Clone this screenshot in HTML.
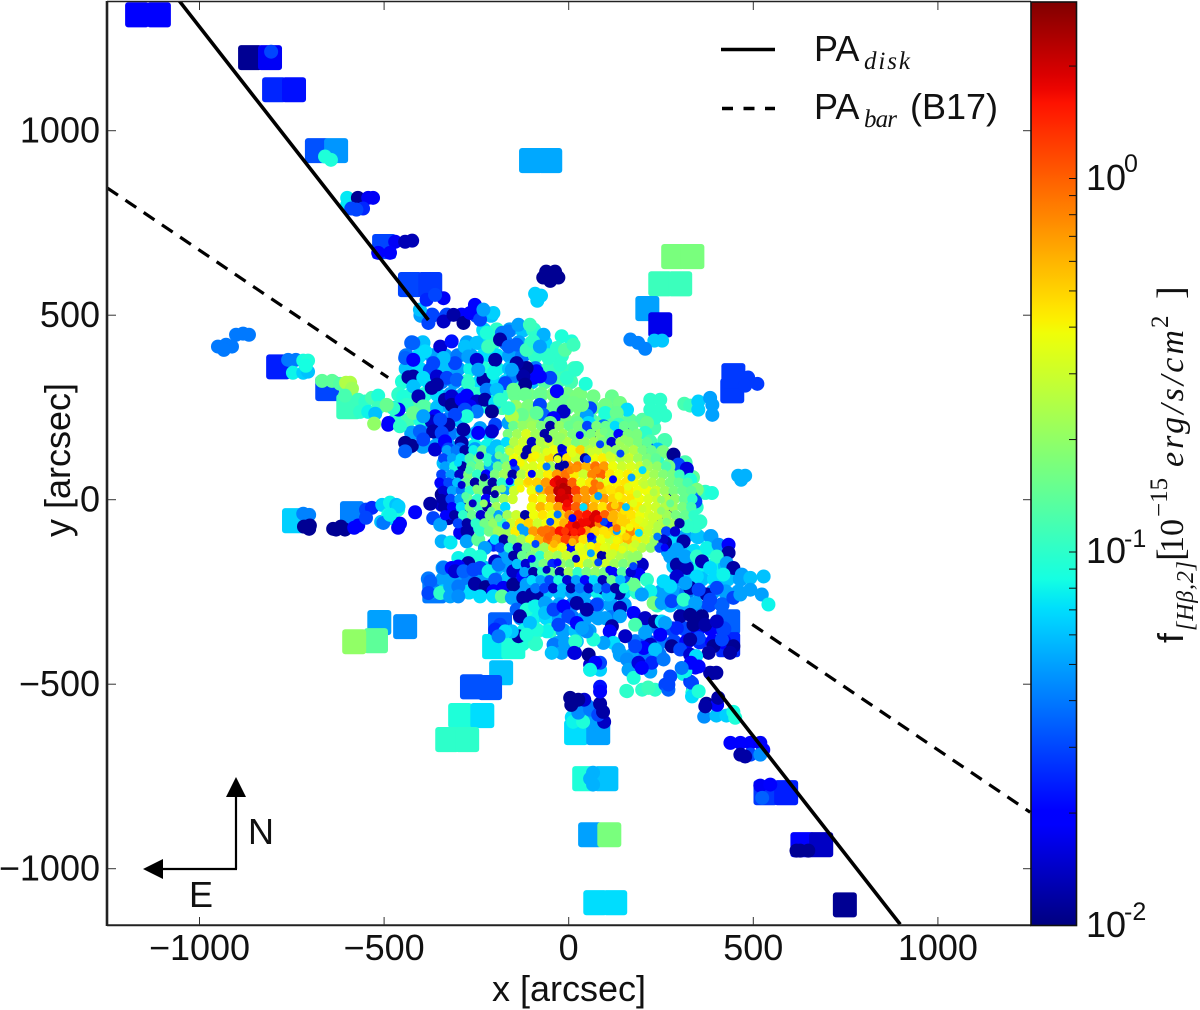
<!DOCTYPE html>
<html lang="en">
<head>
<meta charset="utf-8">
<title>H-beta flux map</title>
<style>
html,body{margin:0;padding:0;background:#fff;width:1200px;height:1010px;overflow:hidden}
svg{display:block}
text{font-family:"Liberation Sans",sans-serif;fill:#111}
.serif{font-family:"Liberation Serif",serif}
</style>
</head>
<body>
<svg id="chart" xmlns="http://www.w3.org/2000/svg" width="1200" height="1010" viewBox="0 0 1200 1010">
  <defs>
    <linearGradient id="jetGrad" x1="0" y1="1" x2="0" y2="0"></linearGradient>
    <clipPath id="plotClip"><rect x="107" y="1" width="924" height="925"></rect></clipPath>
  </defs>
  <rect x="0" y="0" width="1200" height="1010" fill="#fff"></rect>
  <g id="tileLayer" clip-path="url(#plotClip)"></g>
  <g id="fillLayer" clip-path="url(#plotClip)"></g>
  <g id="spotLayer" clip-path="url(#plotClip)"></g>
  <g id="coreLayer" clip-path="url(#plotClip)"></g>
  <g id="lineLayer" clip-path="url(#plotClip)"></g>
  <g id="axisLayer"></g>

  <rect x="1031" y="2" width="45.5" height="923.5" fill="url(#jetGrad)" stroke="#111" stroke-width="1.6"></rect>
  <g id="cbTickLayer"></g>

  <text x="569" y="1001" font-size="36" text-anchor="middle">x [arcsec]</text>
  <text transform="translate(70,460) rotate(-90)" font-size="36" text-anchor="middle">y [arcsec]</text>

  <g>
    <line x1="236" y1="869" x2="236" y2="795" stroke="#000" stroke-width="2.2"></line>
    <polygon points="236,777 226,797 246,797" fill="#000"></polygon>
    <line x1="237" y1="869" x2="160" y2="869" stroke="#000" stroke-width="2.2"></line>
    <polygon points="143,869 163,859 163,879" fill="#000"></polygon>
    <text x="248" y="844" font-size="36">N</text>
    <text x="189" y="907" font-size="36">E</text>
  </g>

  <g>
    <line x1="721" y1="49.5" x2="775" y2="49.5" stroke="#000" stroke-width="3.5"></line>
    <text x="814" y="61" font-size="36">PA</text>
    <text class="serif" x="864" y="69" font-size="25" font-style="italic" textLength="46">disk</text>
    <line x1="722" y1="108.5" x2="775" y2="108.5" stroke="#000" stroke-width="3.5" stroke-dasharray="11 10.5"></line>
    <text x="814" y="119" font-size="36">PA</text>
    <text class="serif" x="864" y="127" font-size="25" font-style="italic" textLength="33">bar</text>
    <text x="910" y="119" font-size="36">(B17)</text>
  </g>

  <g>
    <text x="1086" y="190" font-size="36">10</text>
    <text x="1124" y="172" font-size="25">0</text>
    <text x="1086" y="563" font-size="36">10</text>
    <text x="1124" y="547" font-size="25">-1</text>
    <text x="1086" y="937" font-size="36">10</text>
    <text x="1124" y="920" font-size="25">-2</text>
  </g>

  <g transform="translate(1183,645) rotate(-90)">
    <text x="2" y="0" font-size="36">f</text>
    <text class="serif" x="14" y="10" font-size="24" font-style="italic" textLength="70">[Hβ,2]</text>
    <text class="serif" x="84" y="0" font-size="38">[</text>
    <text class="serif" x="92" y="0" font-size="34">10</text>
    <text class="serif" x="128" y="-16" font-size="25">−15</text>
    <text class="serif" x="178" y="0" font-size="34" font-style="italic" textLength="137">erg/s/cm</text>
    <text class="serif" x="317" y="-15" font-size="25">2</text>
    <text class="serif" x="346" y="0" font-size="38">]</text>
  </g>
</svg>

<script>
// ---------- axis ticks ----------
const xTicks = [-1000, -500, 0, 500, 1000];
const yTicks = [-1000, -500, 0, 500, 1000];
const xTickLabels = ["−1000", "−500", "0", "500", "1000"];
const yTickLabels = ["−1000", "−500", "0", "500", "1000"];
const colorbarDecades = [0.01, 0.1, 1];
const colorbarMinor = [0.02,0.03,0.04,0.05,0.06,0.07,0.08,0.09,0.2,0.3,0.4,0.5,0.6,0.7,0.8,0.9,2];

// ---------- position-angle lines: segments of [x, y] in arcsec ----------
const diskLine = [[[-1055,1352],[-380,487]], [[375,-481],[898,-1151]]];
const barLine = [[[-1250,845],[-489,331]], [[497,-338],[1250,-847]]];

// ---------- large rectangular bins: [x, y, flux] ----------
const tileObs = [
[-1169,1314,.02],[-1110,1314,.02],[-863,1198,.011],[-809,1198,.018],[-798,1111,.025],[-744,1111,.022],
[-682,946,.032],[-630,946,.047],[-500,686,.03],[-430,583,.03],[-375,583,.028],
[-102,919,.052],[-50,919,.052],[248,585,.11],[302,585,.11],[283,659,.17],[335,659,.17],
[213,518,.05],[248,474,.017],[443,295,.028],[446,336,.028],
[-787,360,.024],[-654,301,.03],[-597,252,.11],[-744,-57,.065],[-587,-38,.042],
[-513,-333,.05],[-522,-382,.14],[-581,-385,.2],[-443,-344,.045],
[-364,-247,.04],[-321,-206,.035],
[-183,-469,.06],[-262,-507,.032],[-213,-509,.032],
[-186,-339,.035],[-202,-398,.075],[-150,-398,.09],
[-294,-585,.09],[-234,-585,.07],[-329,-650,.1],[-275,-650,.1],
[20,-631,.07],[80,-631,.05],[42,-756,.09],[102,-756,.06],[58,-908,.05],[110,-908,.17],
[72,-1092,.07],[126,-1092,.07],[748,-1098,.011],[633,-935,.02],[684,-935,.014],
[533,-794,.028],[589,-794,.024],[432,-331,.035],[432,-393,.025]
];

// ---------- wide low-level fibres underneath the rest: [x, y, flux] ----------
const wideObs = [
[-400,500,.05],[-370,500,.03],[-330,500,.03],[-290,500,.02],[-250,500,.03],[-210,500,.06],
[-230,460,.07],[-195,460,.1],[-160,460,.05],[-125,460,.06],[-95,460,.1],
[-425,425,.035],[-395,425,.06],[-275,425,.05],[-240,425,.07],[-205,425,.1],[-170,425,.04],[-135,425,.05],[-100,425,.1],[-65,425,.07],
[-440,390,.04],[-405,390,.07],[-370,390,.05],[-335,390,.05],[-300,390,.04],[-265,390,.05],[-230,390,.07],[-195,390,.07],[-160,390,.05],[-125,390,.04],[-90,390,.1],[-55,390,.1],[-20,390,.1],
[-440,355,.06],[-405,355,.07],[-370,355,.04],[-335,355,.06],[-300,355,.05],[-265,355,.08],[-230,355,.09],[-195,355,.08],[-160,355,.06],[-125,355,.03],[-90,355,.04],[-55,355,.11],[-20,355,.11],[15,355,.11],
[-450,320,.09],[-415,320,.07],[-380,320,.07],[-345,320,.04],[-310,320,.05],[-275,320,.1],[-240,320,.07],[-205,320,.07],[-170,320,.07],[-135,320,.1],[-100,320,.06],[-65,320,.13],[-30,320,.12],[5,320,.12],
[-460,285,.1],[-425,285,.1],[-390,285,.09],[-355,285,.07],[-320,285,.05],[-285,285,.05],[-250,285,.1],[-215,285,.09],[-180,285,.1],[-145,285,.15],[-110,285,.16],[-75,285,.16],[-40,285,.17],[-5,285,.16],[30,285,.17],
[-460,250,.1],[-425,250,.13],[-390,250,.13],[-355,250,.06],[-320,250,.05],[-285,250,.05],[-250,250,.08],[-215,250,.09],[-180,250,.12],[-145,250,.2],[-110,250,.2],[-75,250,.17],[-40,250,.17],[-5,250,.15],[30,250,.17],[65,250,.16],[100,250,.15],[135,250,.15],
[-470,215,.1],[-435,215,.12],[-400,215,.09],[-365,215,.05],[-330,215,.04],[-295,215,.06],[-150,215,.25],[-115,215,.2],[-80,215,.2],[-45,215,.15],[-10,215,.17],[25,215,.17],[60,215,.12],[95,215,.14],[130,215,.14],[165,215,.14],[200,215,.13],[230,195,.12],
[-425,180,.05],[-390,180,.05],[-355,180,.04],[-320,180,.04],[-285,180,.05],[-250,180,.06],[-215,180,.07],
[-430,145,.05],[-395,145,.05],[-360,145,.05],[-325,145,.05],[-290,145,.06],[-255,145,.08],[-220,145,.08],[260,160,.12],
[280,100,.15],[315,100,.12],[300,60,.16],[335,60,.14],[335,20,.14],[370,20,.1],[345,-20,.1],[320,-60,.1],[355,-60,.1],
[280,-100,.07],[315,-100,.05],[350,-100,.06],[385,-100,.05],
[270,-140,.05],[305,-140,.06],[340,-140,.07],[375,-140,.09],[410,-140,.05],
[285,-180,.06],[320,-180,.05],[355,-180,.08],[390,-180,.08],[425,-180,.06],
[290,-215,.05],[325,-215,.06],[360,-215,.06],[395,-215,.07],[430,-215,.06],[465,-215,.05],
[250,-250,.05],[285,-250,.05],[320,-250,.04],[355,-250,.05],[390,-250,.05],[425,-250,.05],[460,-250,.05],
[240,-285,.1],[275,-285,.06],[310,-285,.05],[345,-285,.04],[380,-285,.03],[415,-285,.035],
[-340,-185,.05],[-300,-185,.06],[-265,-185,.07],[-230,-185,.06],[-195,-185,.06],[-160,-185,.05],[-125,-185,.05],[-90,-185,.08],
[-380,-215,.04],[-340,-215,.05],[-305,-215,.05],[-270,-215,.04],[-235,-215,.05],[-200,-215,.05],[-165,-215,.06],[-130,-215,.05],[-95,-215,.06],[-60,-215,.07],[-25,-215,.07],[10,-215,.08],[45,-215,.07],[80,-215,.08],[115,-215,.1],[150,-215,.1],
[-375,-250,.05],[-340,-250,.07],[-305,-250,.05],[-270,-250,.07],[-235,-250,.07],[-200,-250,.07],[-165,-250,.09],[-130,-250,.05],[-95,-250,.06],[-60,-250,.06],[-25,-250,.06],[10,-250,.05],[45,-250,.05],[80,-250,.08],[115,-250,.07],[150,-250,.07],[185,-250,.1],
[-130,-285,.05],[-95,-285,.07],[-60,-285,.06],[-25,-285,.05],[10,-285,.04],[45,-285,.05],[80,-285,.05],[115,-285,.05],[150,-285,.05],
[-130,-320,.05],[-95,-320,.08],[-60,-320,.07],[-25,-320,.05],[10,-320,.04],[45,-320,.05],[80,-320,.05],[115,-320,.04],
[-120,-355,.08],[-85,-355,.1],[-50,-355,.1],[-15,-355,.05],[20,-355,.06],[55,-355,.05],
[-125,-390,.09],[-90,-390,.1],[-30,-390,.05],
[210,-350,.05],[245,-350,.04],[280,-350,.03],[315,-350,.03],[350,-350,.02],[385,-350,.02],[420,-350,.03],
[180,-385,.04],[215,-385,.03],[250,-385,.04],[285,-385,.03],[320,-385,.02],[355,-385,.025],[390,-385,.02],[420,-385,.02],
[140,-420,.05],[175,-420,.05],[210,-420,.04],[245,-420,.04],
[20,-560,.04],[50,-560,.04],[80,-565,.035],[10,-590,.07],[40,-590,.07],[70,-595,.05]
];

// ---------- mid-size fibre spots: [x, y, flux] ----------
const spotObs = [
[-806,1214,.03],[-660,930,.09],[-644,921,.09],
[-600,818,.075],[-600,799,.075],[-571,818,.011],[-543,818,.018],[-530,818,.018],[-589,789,.03],[-557,789,.025],[-575,786,.03],
[-470,699,.018],[-443,699,.013],[-424,702,.013],[-516,669,.02],[-484,669,.02],
[-91,558,.065],[-75,553,.065],[-85,539,.065],
[-61,618,.011],[-37,618,.011],[-69,602,.011],[-50,593,.011],[-28,602,.011],
[167,434,.042],[188,425,.042],[232,431,.062],[253,431,.062],[207,409,.042],
[221,271,.1],[248,271,.1],[221,244,.1],[248,244,.1],[261,228,.1],[234,222,.1],
[313,260,.12],[329,255,.11],[351,266,.065],[351,244,.065],[389,257,.05],[389,230,.05],[383,276,.05],
[486,331,.028],[511,314,.028],[478,309,.028],[459,65,.055],[478,65,.055],[467,54,.055],
[-901,447,.04],[-882,450,.04],[-866,447,.04],[-950,415,.04],[-928,420,.04],[-912,415,.04],[-934,406,.04],
[-760,379,.04],[-739,379,.04],[-719,377,.085],[-706,377,.09],[-747,344,.08],[-719,344,.065],[-706,347,.06],[-712,363,.085],
[-668,322,.14],[-641,322,.14],[-619,314,.13],[-592,317,.25],[-603,317,.25],[-587,301,.22],
[-606,282,.12],[-570,271,.11],[-551,266,.1],[-533,276,.12],[-516,282,.09],[-565,238,.1],[-543,238,.08],[-516,249,.11],[-524,233,.06],
[-527,206,.2],[-489,203,.018],[-492,255,.18],[-476,249,.07],
[-719,-38,.042],[-703,-41,.042],[-717,-73,.011],[-701,-70,.011],[-703,-79,.011],
[-638,-79,.011],[-617,-73,.011],[-630,-81,.011],[-606,-81,.011],[-581,-76,.02],[-570,-70,.02],
[-549,-27,.03],[-533,-22,.025],[-549,-49,.03],
[-505,-14,.065],[-484,-8,.08],[-467,-14,.06],[-508,-60,.06],[-489,-41,.085],[-476,-51,.07],[-462,-27,.09],[-462,-76,.018],
[12,-602,.08],[39,-602,.09],[77,-610,.05],[96,-602,.014],[26,-577,.045],[58,-569,.04],[80,-583,.03],
[7,-556,.011],[42,-542,.015],[85,-553,.012],[93,-575,.012],[4,-537,.011],[26,-542,.011],
[85,-507,.022],[85,-520,.02],[58,-461,.065],[85,-461,.065],[58,-447,.015],[85,-442,.03],
[66,-740,.055],[66,-772,.055],[58,-756,.055],
[627,-951,.011],[649,-951,.011],[617,-951,.011],[519,-775,.018],[546,-772,.019],[524,-808,.035],
[438,-659,.02],[465,-659,.02],[492,-659,.02],[519,-659,.018],[527,-678,.02],[465,-691,.012],[492,-691,.03],[519,-691,.045],[478,-696,.012],
[367,-588,.045],[400,-585,.06],[427,-585,.065],[446,-575,.085],[451,-591,.09],[373,-553,.011],[402,-556,.02],[405,-537,.012],
[383,-469,.012],[400,-469,.012],[343,-455,.02],[316,-466,.025],[310,-472,.08],[329,-493,.028],[337,-515,.03],[335,-523,.09],
[215,-509,.11],[199,-515,.1],[234,-515,.1],[156,-518,.1],[262,-501,.03],[270,-515,.035],[221,-466,.05],

[-403,515,.06],[-385,542,.025],[-339,546,.018],[-362,555,.03],
[-380,479,.03],[-339,483,.014],[-312,501,.012],[-285,479,.011],[-254,528,.02],[-267,506,.02],[-240,488,.03],[-204,506,.065],[-231,515,.05],
[-421,425,.035],[-389,402,.07],[-443,384,.035],[-421,379,.02],[-348,415,.015],[-317,429,.022],[-308,370,.03],[-339,384,.06],[-367,370,.03],
[-281,415,.06],[-249,425,.06],[-272,388,.05],[-249,379,.015],[-222,452,.09],[-218,415,.11],[-199,379,.012],[-181,452,.04],[-163,456,.04],[-136,474,.05],[-105,474,.11],
[-186,434,.012],[-163,415,.035],[-141,420,.035],[-114,406,.11],[-68,447,.055],[-96,429,.1],[-78,415,.05],[-55,384,.1],[-19,443,.09],[8,429,.09],[-32,411,.1],[-10,406,.13],[-23,366,.1],[22,357,.1],[-5,330,.1],[-50,330,.03],
[-87,348,.02],[-96,330,.02],[-78,334,.02],[-150,334,.04],[-114,357,.011],[-141,370,.012],[-123,334,.012],[-118,312,.011],
[-421,334,.012],[-434,332,.012],[-448,280,.09],[-376,352,.03],[-394,330,.07],[-357,334,.015],[-330,330,.03],[-303,325,.035],[-272,316,.1],[-231,325,.012],[-204,343,.08],[-172,316,.03],[-154,352,.05],[-245,352,.05],
[-421,307,.06],[-371,303,.012],[-407,280,.013],[-439,257,.1],[-394,253,.13],[-421,235,.15],[-461,244,.02],[-488,208,.02],[-475,248,.1],[-493,257,.15],[-457,199,.1],
[-357,312,.012],[-335,271,.012],[-317,280,.015],[-317,257,.011],[-290,271,.02],[-276,282,.02],[-249,266,.014],[-267,253,.018],[-222,298,.04],[-227,271,.012],[-195,298,.06],[-199,262,.07],[-208,239,.011],[-249,239,.04],[-281,244,.03],[-276,226,.09],[-308,230,.03],
[-362,226,.02],[-371,212,.014],[-326,203,.012],[-348,217,.03],[-394,226,.05],[-403,185,.035],[-367,185,.012],[-344,181,.03],[-285,190,.012],[-240,194,.05],[-199,203,.03],[-163,208,.05],[-208,185,.015],[-245,181,.02],
[-443,154,.011],[-425,146,.011],[-443,131,.035],[-394,163,.03],[-362,136,.015],[-335,158,.02],[-326,136,.03],[-290,154,.012],[-254,137,.05],[-195,145,.06],[-172,104,.02],[-195,99,.08],[-339,99,.06],[-344,45,.03],[-317,41,.011],[-344,14,.011],[-294,136,.035],[-303,99,.08],[-267,104,.09],
[-150,298,.15],[-118,285,.15],[-109,253,.17],[-78,285,.15],[-32,294,.02],[-10,266,.15],[22,280,.17],[-37,253,.15],[-78,257,.03],[-69,230,.035],[-14,239,.014],[-41,221,.02],[-127,230,.15],[-154,226,.25],[-87,235,.14],[-50,208,.15],[-163,248,.1],[-186,271,.1],
[13,420,.11],[18,352,.1],[46,314,.09],[67,280,.16],[117,280,.15],[99,257,.16],[139,262,.16],[58,248,.03],[49,228,.05],[158,244,.07],[36,257,.16],[13,262,.16],[99,235,.09],[130,235,.15],
[135,203,.11],[212,208,.15],[94,199,.04],[54,208,.07],[63,185,.013],[22,208,.15],[158,181,.015],[207,181,.1],[180,176,.16],[221,158,.12],[31,176,.13],[94,172,.17],[126,181,.17],
[241,136,.06],[212,140,.03],[255,129,.17],[284,122,.011],[297,95,.03],[320,84,.016],[329,54,.09],[243,99,.1],[270,90,.16],[347,27,.17],[388,18,.09],[334,5,.045],[275,5,.012],[320,27,.17],[230,118,.16],

[-502,-63,.04],[-461,-18,.065],[-457,-65,.02],[-484,-41,.08],[-416,-34,.02],[-367,-50,.03],[-344,-14,.014],[-375,-11,.012],[-326,-50,.012],[-317,-36,.02],[-348,-68,.05],
[-294,-90,.018],[-274,-86,.012],[-276,-113,.05],[-344,-113,.055],[-320,-116,.075],[-299,-18,.06],[-281,-27,.012],[-258,-54,.05],[-240,-77,.09],[-217,-54,.02],[-236,-50,.03],[-204,-77,.14],[-245,-108,.14],[-204,-122,.025],[-177,-113,.012],[-227,-131,.05],[-172,-149,.05],[-121,-140,.012],
[-199,-167,.014],[-240,-154,.09],[-267,-149,.09],[-299,-158,.08],[-272,-172,.012],[-299,-181,.02],[-339,-185,.04],[-317,-185,.02],[-308,-194,.015],[-285,-194,.035],[-258,-190,.03],[-240,-185,.03],[-217,-194,.08],[-190,-176,.04],[-150,-194,.014],[-163,-158,.05],[-136,-158,.012],
[-254,-228,.012],[-225,-237,.011],[-199,-217,.035],[-177,-239,.018],[-150,-230,.011],[-123,-208,.02],[-204,-248,.02],[-240,-262,.07],[-204,-262,.07],[-181,-262,.14],[-154,-266,.05],[-123,-266,.012],[-114,-230,.05],[-87,-257,.012],[-100,-257,.012],
[-375,-221,.035],[-380,-253,.03],[-348,-253,.1],[-321,-235,.05],[-321,-262,.05],[-299,-235,.04],[-299,-262,.045],
[-141,-298,.035],[-114,-298,.09],[-132,-316,.012],[-91,-289,.08],[-64,-280,.05],[-64,-307,.06],[-41,-298,.03],[-14,-289,.02],[22,-280,.012],[-1,-316,.03],[-28,-339,.03],[22,-334,.02],[-59,-357,.08],[-87,-352,.09],[-105,-334,.06],[-136,-370,.012],[-154,-357,.06],[-114,-366,.09],
[-41,-393,.04],[-10,-388,.05],[22,-384,.06],[17,-415,.014],[-19,-415,.05],[-46,-415,.06],[-186,-339,.03],[-199,-352,.025],[-172,-357,.07],[-190,-370,.04],

[343,-5,.03],[316,-18,.1],[329,-45,.12],[343,-72,.1],[320,-72,.1],[275,-27,.012],[257,-54,.02],[275,-81,.05],[261,-117,.012],[311,-113,.012],[293,-135,.05],[275,-154,.05],[293,-176,.012],[320,-185,.013],[316,-154,.05],[347,-154,.1],[361,-167,.013],[374,-131,.08],[406,-122,.045],[433,-122,.02],[433,-144,.012],[401,-154,.1],[428,-172,.05],[446,-185,.012],[383,-185,.07],
[469,-203,.05],[419,-203,.08],[492,-212,.06],[528,-208,.06],[492,-244,.05],[523,-257,.05],[541,-284,.08],[446,-266,.03],[465,-257,.05],
[374,-257,.012],[401,-239,.03],[347,-208,.07],[293,-208,.015],[329,-239,.012],[316,-226,.05],[352,-244,.03],[275,-235,.07],[257,-221,.07],[198,-176,.014],[189,-203,.02],[212,-217,.1],[176,-230,.15],[221,-248,.08],[198,-257,.05],[230,-280,.17],[252,-280,.05],[279,-275,.03],[311,-271,.1],[343,-280,.05],[383,-271,.03],
[148,-208,.03],[121,-226,.05],[94,-239,.012],[135,-253,.012],[108,-257,.06],[76,-284,.03],[49,-298,.012],[99,-321,.05],[139,-293,.013],[139,-316,.05],[176,-307,.02],[207,-321,.014],[234,-330,.011],[252,-330,.07],[180,-339,.12],[117,-343,.012],[111,-357,.02],[153,-370,.014],[207,-361,.05],
[302,-316,.012],[329,-312,.011],[361,-316,.011],[338,-339,.011],[370,-339,.012],[401,-330,.014],[293,-348,.025],[261,-334,.05],[446,-397,.011],[437,-415,.012],[392,-397,.011],[379,-415,.012],[415,-379,.03],[352,-375,.03],[329,-379,.012],[248,-366,.02],[221,-393,.014],[203,-402,.02],[180,-397,.03],[279,-397,.011],[302,-406,.03],[329,-420,.015],[345,-424,.07],[234,-406,.06],
[121,-388,.07],[94,-388,.05],[135,-406,.05],[67,-379,.09],[49,-357,.045],[36,-348,.05],[18,-384,.1],[15,-415,.016],[54,-420,.011],[72,-442,.02],[58,-461,.08],[158,-433,.045],[162,-461,.05],[189,-442,.016],[225,-442,.025],[257,-433,.04],[176,-483,.09],[198,-456,.02],[275,-479,.03],[316,-465,.08],[352,-452,.02],[388,-470,.012],[331,-442,.02],[270,-501,.03],[334,-497,.03],[334,-533,.07],[352,-519,.09],[306,-456,.04],[158,-519,.1],[216,-510,.11],[370,-560,.012]
];

// ---------- dense inner fibres, listed row by row ----------
const coreRowY = [200,178,156,134,112,90,68,46,24,2,-20,-42,-64,-86,-108,-130,-152,-174,-196,-218,-240];
const coreRowX = [
[-150,-125,-100,-75,-50,-25,0,25,50,75,100,125,150,175],
[-165,-140,-115,-90,-65,-40,-15,10,35,60,85,110,135,160,185],
[-170,-148,-124,-100,-76,-52,-28,-4,20,44,68,92,116,140,164,188,212],
[-330,-306,-282,-258,-234,-210,-186,-160,-136,-112,-88,-64,-40,-16,8,32,56,80,104,128,152,176,200,224],
[-340,-316,-292,-268,-244,-220,-196,-172,-148,-124,-100,-76,-52,-28,-4,20,44,68,92,116,140,164,188,212,236],
[-335,-310,-288,-264,-240,-216,-192,-168,-144,-120,-96,-72,-48,-24,0,24,48,72,96,120,144,168,192,216,240,264],
[-345,-320,-296,-272,-248,-224,-200,-176,-152,-128,-104,-80,-56,-32,-8,16,40,64,88,112,136,160,184,208,232,256,280,300],
[-350,-326,-302,-278,-254,-230,-206,-182,-158,-134,-110,-86,-62,-38,-14,10,34,58,82,106,130,154,178,202,226,250,274,298,322],
[-340,-316,-292,-268,-244,-220,-196,-172,-148,-100,-76,-52,-28,-4,20,44,68,92,116,140,164,188,212,236,260,284,308,332],
[-345,-320,-296,-272,-248,-224,-200,-176,-152,-96,-72,-48,-24,0,24,48,72,96,120,144,168,192,216,240,264,288,312,335],
[-340,-316,-292,-268,-244,-220,-196,-172,-100,-76,-52,-28,-4,20,44,68,92,116,140,164,188,212,236,260,284,308,332],
[-335,-310,-286,-262,-238,-214,-190,-166,-142,-118,-94,-70,-46,-22,2,26,50,74,98,122,146,170,194,218,242,266,290,314,338],
[-300,-276,-252,-228,-204,-180,-156,-132,-108,-84,-60,-36,-12,12,36,60,84,108,132,156,180,204,228,252,276,300],
[-240,-216,-192,-168,-144,-120,-96,-72,-48,-24,0,24,48,72,96,120,144,168,192,216,240,264,288],
[-200,-176,-152,-128,-104,-80,-56,-32,-8,16,40,64,88,112,136,160,184,208,232,256],
[-186,-162,-138,-114,-90,-66,-42,-18,6,30,54,78,102,126,150,174,198,222,246],
[-150,-126,-102,-78,-54,-30,-6,18,42,66,90,114,138,162,186],
[-140,-116,-92,-68,-44,-20,4,28,52,76,100,124,148,172],
[-120,-96,-72,-48,-24,0,24,48,72,96,120,144,168],
[-100,-76,-52,-28,-4,20,44,68,92,116,140],
[-90,-66,-42,-18,6,30,54,78,102,126,150]
];
const coreRowFlux = [
[.15,.2,.22,.17,.012,.2,.15,.17,.03,.17,.15,.07,.15,.15],
[.17,.22,.33,.22,.012,.2,.22,.17,.15,.17,.2,.15,.02,.17,.17],
[.07,.25,.3,.014,.25,.3,.2,.25,.17,.2,.22,.17,.015,.22,.2,.17,.14],
[.05,.04,.012,.08,.15,.06,.1,.22,.33,.012,.3,.25,.38,.02,.38,.5,.25,.3,.22,.2,.22,.25,.17,.15],
[.03,.05,.07,.12,.16,.1,.05,.14,.38,.3,.42,.33,.5,.012,.45,.3,.012,.38,.42,.33,.25,.3,.22,.17,.14],
[.05,.09,.012,.14,.17,.05,.14,.2,.03,.33,.33,.38,.22,.012,.7,.8,.6,.9,.7,.38,.3,.33,.3,.22,.2,.12],
[.03,.05,.014,.17,.1,.02,.17,.22,.012,.25,.38,.3,.42,.7,.9,.42,.3,.8,1,.45,.38,.42,.33,.3,.22,.18,.17,.11],
[.02,.03,.06,.15,.012,.16,.012,.1,.08,.33,.45,.5,.7,1.7,2,1,.38,.45,.3,.38,.42,.45,.38,.3,.25,.22,.17,.15,.12],
[.015,.05,.04,.1,.17,.012,.2,.05,.3,.38,.6,.8,2.2,2.4,1.2,.7,.9,.5,.45,.5,.42,.38,.38,.3,.22,.17,.15,.14],
[.012,.03,.05,.15,.1,.02,.15,.22,.3,.45,.38,.7,2,1.8,.8,.7,.5,.7,.5,.45,.45,.38,.33,.3,.25,.2,.15,.1],
[.012,.02,.07,.17,.12,.012,.22,.07,.38,.6,.45,.7,1.6,1,.8,.6,.45,.8,.7,.5,.42,.33,.3,.25,.22,.17,.12],
[.02,.012,.1,.15,.015,.17,.05,.22,.3,.012,.38,.45,.38,.5,.8,1.4,1.6,1.9,1,.6,.5,.45,.38,.33,.3,.22,.17,.15,.1],
[.03,.012,.1,.16,.2,.1,.3,.45,.5,.3,.38,.45,.6,1.6,1.7,2,.8,.02,.6,.5,.42,.33,.3,.25,.22,.012],
[.1,.16,.22,.22,.42,.05,.7,.9,1,1.6,1.9,1.7,.7,.5,.45,.5,.38,.8,.45,.3,.25,.03,.015],
[.07,.012,.17,.22,.38,.6,.9,.7,1.2,.9,.45,.03,.38,.3,.45,.6,.42,.33,.25,.014],
[.03,.1,.014,.15,.2,.22,.45,.42,.02,.38,.3,.45,.33,.42,.3,.33,.25,.2,.03],
[.012,.15,.17,.1,.25,.22,.3,.25,.38,.33,.012,.3,.25,.22,.2],
[.06,.015,.12,.17,.025,.2,.17,.38,.22,.25,.3,.22,.17,.2],
[.05,.012,.1,.15,.012,.22,.1,.17,.2,.17,.02,.13,.015],
[.07,.05,.03,.09,.015,.05,.02,.07,.013,.15,.06],
[.04,.03,.014,.06,.012,.04,.014,.05,.03,.012,.09]
];

// ---------- small fibres lying between the rows: [x, y, flux] ----------
const coreExtraObs = [
[110,30,.45],[135,10,.4],[160,35,.35],[185,15,.3],[205,40,.28],[230,20,.25],[250,0,.2],[125,-15,.5],[150,-30,.45],[175,-10,.35],[200,-25,.3],[225,-45,.3],[250,-30,.2],[275,-10,.15],
[115,-50,.6],[140,-60,.5],[165,-75,.4],[190,-55,.35],[215,-80,.3],[240,-70,.25],[265,-60,.17],
[105,-95,.45],[130,-110,.4],[155,-100,.5],[180,-120,.3],[205,-105,.3],[230,-115,.2],[95,-130,.35],[120,-145,.3],[145,-135,.35],[170,-155,.2],[60,-125,.4],[35,-140,.35],[10,-115,.6],[-15,-130,.4],[-40,-120,.6],
[-180,30,.2],[-210,-30,.15],[-250,30,.18],[-280,10,.13],[-230,-10,.2],[-190,-50,.15],[-270,80,.12],[-300,100,.07],[-220,100,.1],[-190,120,.15],[-160,130,.3],[-130,100,.4],[-110,50,.5],[-130,30,.4],[-90,120,.4],[-60,130,.35],[-30,110,.35],[10,125,.35],[60,130,.3],[110,120,.3],[160,110,.28],[210,100,.2],[40,160,.2],[95,185,.16],[150,165,.2],[-20,170,.2],
[120,55,.02],[170,60,.05],[50,110,.03],[-10,95,.012],[-20,140,.015],[-55,165,.012],[30,175,.02],[85,150,.03],[140,125,.03],[200,80,.07],[155,-20,.06],[95,-60,.03],[60,-100,.02],[-30,-40,.04],[-80,30,.05],[-100,70,.02],[-120,120,.012],[-60,90,.04],[40,-20,.07],[80,10,.05],[10,-50,.02],[-50,-60,.03],[-90,-120,.03],[-30,-170,.02],[20,-160,.014],[80,-170,.03],[110,-190,.02],[130,-85,.05],[190,-90,.07],[240,-100,.04],[260,-130,.02],[175,-180,.03],[-60,-190,.014],[-100,-160,.02],[60,-145,.05],[-130,-75,.05],[-170,-70,.03],[-160,50,.02],[-230,60,.011],[-200,15,.012],[-260,-10,.014],[-290,40,.015],[-150,100,.02],[-240,120,.014],
[70,45,.9],[85,38,.8],[5,80,.8],[20,85,.75],[76,80,.8],[130,-77,.9],[-70,-90,.9],[-55,-100,1],[-60,-80,.9],
[-30,55,1.8],[-25,45,2],[-15,35,2.3],[-5,25,2.2],[-20,20,1.9],[-10,5,2],[-5,-10,1.7],
[0,-75,1.6],[20,-70,1.9],[35,-85,1.6],[50,-60,1.7],[65,-50,1.9],[80,-52,1.7],[15,-88,1.5],[-10,-85,1.3]
];

// ---------- scales ----------
const SVGNS = "http://www.w3.org/2000/svg";
function xScale(v) { return 568.7 + v * 0.3692; }
function yScale(v) { return 499.7 - v * 0.369; }
function fluxScale(f) { return 925.5 - (Math.log10(f) + 2) * 373.5; }
const fluxMin = 0.01, fluxSpan = 2.4726;

// matplotlib "jet" breakpoints
function interp(pts, t) {
  for (let i = 1; i < pts.length; i++) {
    if (t <= pts[i][0]) {
      const a = pts[i - 1], b = pts[i];
      return a[1] + (b[1] - a[1]) * (t - a[0]) / (b[0] - a[0]);
    }
  }
  return pts[pts.length - 1][1];
}
const jetR = [[0,0],[.35,0],[.66,1],[.89,1],[1,.5]];
const jetG = [[0,0],[.125,0],[.375,1],[.64,1],[.91,0],[1,0]];
const jetB = [[0,.5],[.11,1],[.34,1],[.65,0],[1,0]];
function jetColor(t) {
  t = Math.max(0, Math.min(1, t));
  return "rgb(" + Math.round(255 * interp(jetR, t)) + "," + Math.round(255 * interp(jetG, t)) + "," + Math.round(255 * interp(jetB, t)) + ")";
}
function fluxColor(f) { return jetColor(Math.log10(f / fluxMin) / fluxSpan); }

function make(tag, attrs, parent) {
  const el = document.createElementNS(SVGNS, tag);
  for (const k in attrs) el.setAttribute(k, attrs[k]);
  parent.appendChild(el);
  return el;
}

// ---------- colorbar gradient ----------
const grad = document.getElementById("jetGrad");
for (let i = 0; i <= 64; i++) {
  make("stop", { offset: (i / 64), "stop-color": jetColor(i / 64) }, grad);
}

// ---------- markers ----------
const tileLayer = document.getElementById("tileLayer");
const tileW = 65, tileH = 68;
tileObs.forEach(function (d) {
  const w = tileW * 0.3692, h = tileH * 0.369;
  const el = make("rect", { x: xScale(d[0]) - w / 2, y: yScale(d[1]) - h / 2, width: w, height: h, rx: 3, fill: fluxColor(d[2]) }, tileLayer);
  
  
});

const fillLayer = document.getElementById("fillLayer");
wideObs.forEach(function (d) {
  const el = make("circle", { cx: xScale(d[0]), cy: yScale(d[1]), r: 7.6, fill: fluxColor(d[2]) }, fillLayer);
  
  
});

const spotLayer = document.getElementById("spotLayer");
spotObs.forEach(function (d) {
  const el = make("circle", { cx: xScale(d[0]), cy: yScale(d[1]), r: 7, fill: fluxColor(d[2]) }, spotLayer);
  
  
});

const coreLayer = document.getElementById("coreLayer");
coreRowY.forEach(function (y, i) {
  coreRowX[i].forEach(function (x, j) {
    const el = make("circle", { cx: xScale(x), cy: yScale(y), r: 5.2, fill: fluxColor(coreRowFlux[i][j]) }, coreLayer);
    
    
  });
});
coreExtraObs.forEach(function (d) {
  const el = make("circle", { cx: xScale(d[0]), cy: yScale(d[1]), r: 4, fill: fluxColor(d[2]) }, coreLayer);
  
  
});

// ---------- PA lines ----------
const lineLayer = document.getElementById("lineLayer");
diskLine.forEach(function (s) {
  const el = make("line", { x1: xScale(s[0][0]), y1: yScale(s[0][1]), x2: xScale(s[1][0]), y2: yScale(s[1][1]), stroke: "#000", "stroke-width": 3.6 }, lineLayer);
  
  
});
barLine.forEach(function (s) {
  const el = make("line", { x1: xScale(s[0][0]), y1: yScale(s[0][1]), x2: xScale(s[1][0]), y2: yScale(s[1][1]), stroke: "#000", "stroke-width": 3.2, "stroke-dasharray": "13 9" }, lineLayer);
  
  
});

// ---------- axes ----------
const axisLayer = document.getElementById("axisLayer");
const frameParts = [[107, 1, 107, 926, 2.6], [107, 1.5, 1031, 1.5, 1.6], [107, 925.3, 1031, 925.3, 2]];
frameParts.forEach(function (p) {
  const el = make("line", { x1: p[0], y1: p[1], x2: p[2], y2: p[3], stroke: "#222", "stroke-width": p[4] }, axisLayer);
  
  
});
xTicks.forEach(function (v, i) {
  const x = xScale(v);
  const b = make("line", { x1: x, y1: 925, x2: x, y2: 917, stroke: "#333", "stroke-width": 1 }, axisLayer);
  
  
  const t = make("line", { x1: x, y1: 2, x2: x, y2: 10, stroke: "#333", "stroke-width": 1 }, axisLayer);
  
  
  const label = make("text", { x: x, y: 960, "font-size": 36, "text-anchor": "middle" }, axisLayer);
  label.textContent = xTickLabels[i];
  
  
});
yTicks.forEach(function (v, i) {
  const y = yScale(v);
  const l = make("line", { x1: 108, y1: y, x2: 116, y2: y, stroke: "#333", "stroke-width": 1 }, axisLayer);
  
  
  const r = make("line", { x1: 1023, y1: y, x2: 1031, y2: y, stroke: "#333", "stroke-width": 1 }, axisLayer);
  
  
  const label = make("text", { x: 100, y: y + 12, "font-size": 36, "text-anchor": "end" }, axisLayer);
  label.textContent = yTickLabels[i];
  
  
});

// ---------- colorbar ticks ----------
const cbTickLayer = document.getElementById("cbTickLayer");
colorbarDecades.concat(colorbarMinor).forEach(function (f) {
  const y = fluxScale(f);
  const el = make("line", { x1: 1069, y1: y, x2: 1076, y2: y, stroke: "#111", "stroke-width": 1 }, cbTickLayer);
  
  
});
</script>
</body>
</html>
